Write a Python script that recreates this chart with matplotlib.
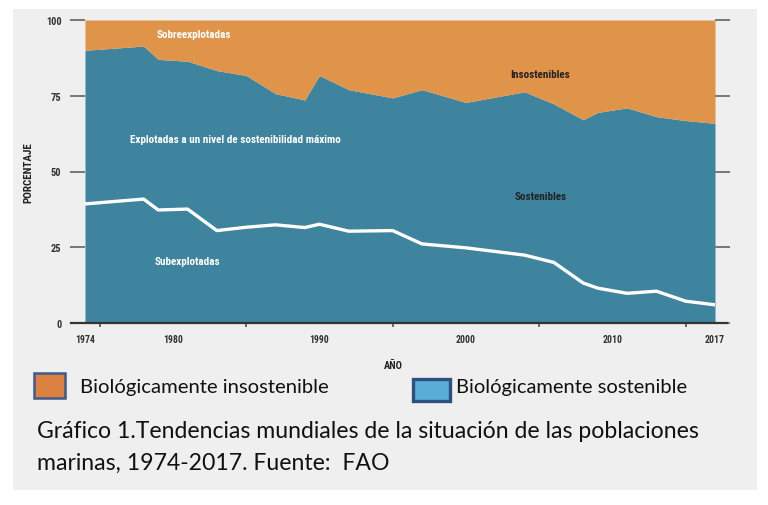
import matplotlib
matplotlib.use("Agg")
import matplotlib.pyplot as plt
from matplotlib import font_manager
from matplotlib.patches import Rectangle
from matplotlib.lines import Line2D

# ---------------- data ----------------
years = [1974, 1978, 1979, 1981, 1983, 1985, 1987, 1989, 1990, 1992, 1995,
         1997, 2000, 2004, 2006, 2008, 2009, 2011, 2013, 2015, 2017]
sostenibles = [90.0, 91.4, 87.0, 86.4, 83.3, 81.7, 75.7, 73.6, 81.7, 77.0, 74.3,
               77.0, 72.8, 76.3, 72.3, 67.1, 69.5, 71.0, 68.1, 66.8, 65.9]
subexplotadas = [39.3, 40.9, 37.3, 37.6, 30.5, 31.6, 32.4, 31.5, 32.6, 30.3, 30.5,
                 26.1, 24.8, 22.4, 20.0, 13.2, 11.5, 9.8, 10.5, 7.2, 6.0]
xtick_minor = [1975, 1980, 1985, 1990, 1995, 2000, 2005, 2010, 2015]
xtick_labels = [1974, 1980, 1990, 2000, 2010, 2017]
ytick_values = [0, 25, 50, 75, 100]
legend_labels = ["Biológicamente insostenible", "Biológicamente sostenible"]
caption = ["Gráfico 1.Tendencias mundiales de la situación de las poblaciones",
           "marinas, 1974-2017. Fuente:  FAO"]

# ---------------- fonts ----------------
names = {f.name for f in font_manager.fontManager.ttflist}
cond = "DejaVu Sans"
for cand in ["Liberation Sans Narrow", "Roboto Condensed", "Open Sans Condensed",
             "DejaVu Sans Condensed"]:
    if cand in names:
        cond = cand
        break
body = "Lato" if "Lato" in names else "DejaVu Sans"

W, H = 768, 506
fig = plt.figure(figsize=(W / 100, H / 100), dpi=100, facecolor="white")

def fx(px):
    return px / W

def fy(py):
    return 1 - py / H

# gray panel
fig.patches.append(Rectangle((fx(13), fy(491)), fx(757) - fx(13), fy(10) - fy(491),
                             transform=fig.transFigure, facecolor="#efefef",
                             edgecolor="none", zorder=-10))

ax = fig.add_axes([fx(85), fy(324), fx(715) - fx(85), fy(21) - fy(324)])
ax.set_facecolor("none")
teal = "#3e849e"
orange = "#e0944a"
ax.fill_between(years, 0, sostenibles, color=teal, linewidth=0)
ax.fill_between(years, sostenibles, 100, color=orange, linewidth=0)
ax.plot(years, subexplotadas, color="white", lw=2.4, solid_joinstyle="round")
ax.set_xlim(1974, 2017)
ax.set_ylim(0, 100)
for s in ax.spines.values():
    s.set_visible(False)

# bottom axis line extending beyond plot
ax.add_line(Line2D([-14 / 630, 1 + 12 / 630], [0, 0], transform=ax.transAxes,
                   color="#333333", lw=1.6, clip_on=False))

# y ticks left & right
ax.set_yticks(ytick_values)
ax.set_yticklabels([str(v) for v in ytick_values], fontfamily=cond,
                   fontweight="bold", fontsize=7.5, color="#333333")
ax.tick_params(axis="y", which="major", direction="out", length=11, width=1.4,
               color="#777777", pad=6, left=True, right=True)
ax.set_xticks(xtick_labels)
ax.set_xticklabels([str(v) for v in xtick_labels], fontfamily=cond,
                   fontweight="bold", fontsize=7, color="#333333")
ax.set_xticks(xtick_minor, minor=True)
ax.tick_params(axis="x", which="both", direction="out", length=3, width=1.2,
               color="#555555", pad=5)
ax.tick_params(axis="x", which="major", length=0, pad=8)

ax.set_ylabel("PORCENTAJE", fontfamily=cond, fontweight="bold", fontsize=8,
              color="#222222", labelpad=12)
ax.yaxis.set_label_coords(-52 / 630, 0.5)
ax.set_xlabel("AÑO", fontfamily=cond, fontweight="bold", fontsize=7.5,
              color="#222222")
ax.xaxis.set_label_coords((393 - 85) / 630, -(361 - 324) / 303)

# in-chart labels
def lab(px, py, s, color):
    fig.text(fx(px), fy(py), s, ha="center", va="center", fontfamily=cond,
             fontweight="bold", fontsize=8, color=color)

lab(194, 35, "Sobreexplotadas", "white")
lab(235, 140, "Explotadas a un nivel de sostenibilidad máximo", "white")
lab(187, 262, "Subexplotadas", "white")
lab(540, 75, "Insostenibles", "#222222")
lab(541, 197, "Sostenibles", "#222222")

# legend boxes
fig.patches.append(Rectangle((fx(34), fy(399)), fx(65) - fx(34), fy(374) - fy(399),
                             transform=fig.transFigure, facecolor="#dd8142",
                             edgecolor="#3c5a8c", lw=1.8))
fig.patches.append(Rectangle((fx(413), fy(402)), fx(450) - fx(413), fy(380) - fy(402),
                             transform=fig.transFigure, facecolor="#5aadd5",
                             edgecolor="#2f4f82", lw=2.4))

renderer = fig.canvas.get_renderer()

def fit_text(x0, yc, s, target_w, size=13):
    t = fig.text(fx(x0), fy(yc), s, ha="left", va="center", fontfamily=body,
                 fontsize=size, color="#111111")
    w = t.get_window_extent(renderer).width
    t.set_fontsize(size * target_w / w)
    return t

fit_text(80, 388, legend_labels[0], 328 - 80)
fit_text(456, 388, legend_labels[1], 687 - 456)
t1 = fit_text(37, 432, caption[0], 699 - 37, 15)
fig.text(fx(37), fy(463), caption[1], ha="left", va="center", fontfamily=body,
         fontsize=t1.get_fontsize(), color="#111111")

fig.savefig("out.png", dpi=100, facecolor="white")
